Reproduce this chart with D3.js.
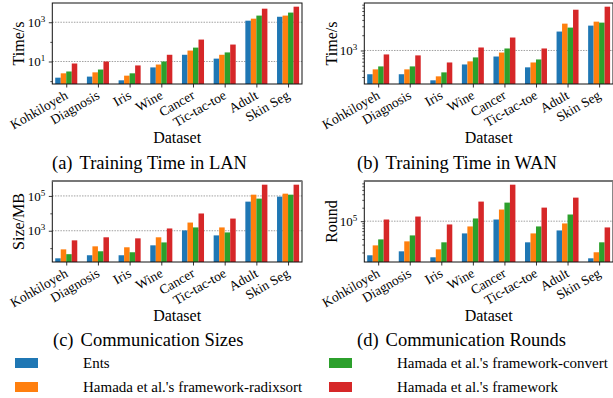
<!DOCTYPE html>
<html>
<head>
<meta charset="utf-8">
<script src="https://cdn.jsdelivr.net/npm/d3@7"></script>
<style>
  body { margin: 0; background: #fff; }
  text { font-family: "Liberation Serif", "Times New Roman", serif; fill: #000; }
</style>
</head>
<body>
<div id="chart"></div>
<script>
const datasets = ["Kohkiloyeh", "Diagnosis", "Iris", "Wine", "Cancer", "Tic-tac-toe", "Adult", "Skin Seg"];
const methods = [
  "Ents",
  "Hamada et al.'s framework-radixsort",
  "Hamada et al.'s framework-convert",
  "Hamada et al.'s framework"
];
const colors = ["#1f77b4", "#ff7f0e", "#2ca02c", "#d62728"];

// one row per method, one value per dataset
const lanTime = [
  [1.5, 1.7, 1.1, 5.0, 22, 14, 1200, 1900],
  [2.5, 2.8, 1.9, 7.0, 36, 22, 1520, 2180],
  [3.1, 3.9, 2.5, 10, 51, 29, 2180, 3100],
  [7.9, 10, 6.3, 22, 131, 73, 4900, 6200]
];
const wanTime = [
  [340, 340, 258, 530, 760, 465, 2360, 3090],
  [424, 424, 309, 610, 910, 580, 3380, 3700],
  [485, 485, 370, 730, 1095, 665, 2825, 3540],
  [835, 800, 580, 1145, 1800, 1095, 6360, 7300]
];
const commSize = [
  [26, 39, 39, 145, 1045, 540, 47000, 91000],
  [85, 127, 112, 420, 2950, 1550, 118000, 135000],
  [45, 66, 58, 213, 1550, 800, 70000, 118000],
  [280, 420, 365, 1350, 9800, 5000, 443000, 443000]
];
const commRounds = [
  [17300, 21200, 15600, 53300, 109000, 33700, 62100, 14800],
  [28800, 35400, 23500, 76300, 182000, 53300, 89000, 20200],
  [39200, 48100, 33700, 115000, 260000, 76300, 141000, 33700],
  [109000, 127000, 84500, 274000, 654000, 201000, 336000, 72500]
];

// labelled decades (exponents) for each panel
const majorLan = [1, 3];
const majorWan = [3];
const majorSize = [3, 5];
const majorRounds = [5];

const width = 613;
const height = 398;

const svg = d3
  .select("#chart")
  .append("svg")
  .attr("width", width)
  .attr("height", height);

const panels = [
  { data: lanTime, major: majorLan, ylabel: "Time/s", tag: "(a)", caption: "Training Time in LAN",
    left: 52.3, right: 302, top: 3, bottom: 84, labelX: 24, capX: 52, capY: 169 },
  { data: wanTime, major: majorWan, ylabel: "Time/s", tag: "(b)", caption: "Training Time in WAN",
    left: 364.3, right: 613, top: 3, bottom: 84, labelX: 337, capX: 357, capY: 169 },
  { data: commSize, major: majorSize, ylabel: "Size/MB", tag: "(c)", caption: "Communication Sizes",
    left: 52.3, right: 302, top: 181, bottom: 262, labelX: 24, capX: 53, capY: 346, heavyTop: true },
  { data: commRounds, major: majorRounds, ylabel: "Round", tag: "(d)", caption: "Communication Rounds",
    left: 364.3, right: 613, top: 181, bottom: 262, labelX: 337, capX: 357, capY: 346, heavyTop: true }
];

function drawPanel(p) {
  const x = d3.scalePoint().domain(datasets).range([p.left, p.right]).padding(0.44);

  // matplotlib-like autoscale: 5% margin in log space
  const vals = p.data.flat();
  const lo = Math.log10(d3.min(vals));
  const hi = Math.log10(d3.max(vals));
  const pad = (hi - lo) * 0.05;
  const y = d3
    .scaleLog()
    .domain([Math.pow(10, lo - pad), Math.pow(10, hi + pad)])
    .range([p.bottom, p.top]);

  const bw = x.step() * 0.174;
  const g = svg.append("g");

  // Grid
  g.selectAll("line.grid")
    .data(p.major)
    .join("line")
    .attr("class", "grid")
    .attr("x1", p.left)
    .attr("x2", p.right)
    .attr("y1", (d) => y(Math.pow(10, d)))
    .attr("y2", (d) => y(Math.pow(10, d)))
    .attr("stroke", "#a0a0a0")
    .attr("stroke-width", 1)
    .attr("stroke-dasharray", "1.5,1.2");

  // Bars
  p.data.forEach((row, j) => {
    g.append("g")
      .attr("fill", colors[j])
      .selectAll("rect")
      .data(row)
      .join("rect")
      .attr("x", (d, i) => x(datasets[i]) + (j - 2) * bw)
      .attr("width", bw)
      .attr("y", (d) => y(d))
      .attr("height", (d) => p.bottom - y(d));
  });

  // Minor ticks
  const [d0, d1] = y.domain();
  const minor = [];
  const skipStride = p.major.length > 1;
  for (let e = Math.floor(Math.log10(d0)); e <= Math.ceil(Math.log10(d1)); e++) {
    if (skipStride) {
      if (!p.major.includes(e)) minor.push(Math.pow(10, e));
    } else {
      for (let k = 2; k <= 9; k++) minor.push(k * Math.pow(10, e));
    }
  }
  const minorIn = minor.filter((v) => v >= d0 && v <= d1);
  g.append("g")
    .attr("transform", `translate(${p.left},0)`)
    .call(d3.axisLeft(y).tickValues(minorIn).tickSize(2).tickFormat(""))
    .call((s) => s.select(".domain").remove())
    .selectAll("line")
    .attr("stroke-width", 0.7);

  // Major y ticks
  const yAxis = g
    .append("g")
    .attr("transform", `translate(${p.left},0)`)
    .call(
      d3.axisLeft(y)
        .tickValues(p.major.map((e) => Math.pow(10, e)))
        .tickSize(3.5)
        .tickPadding(3.5)
        .tickFormat("")
    );
  yAxis.select(".domain").remove();
  yAxis.selectAll(".tick line").attr("stroke-width", 0.8);
  yAxis
    .selectAll(".tick text")
    .attr("font-size", 13)
    .attr("dy", "0.32em")
    .each(function (d) {
      const t = d3.select(this);
      t.text("10");
      t.append("tspan")
        .attr("font-size", 9)
        .attr("dy", "-0.55em")
        .text(Math.round(Math.log10(d)));
    });

  // X axis
  const xAxis = g
    .append("g")
    .attr("transform", `translate(0,${p.bottom})`)
    .call(d3.axisBottom(x).tickSize(3.5).tickSizeOuter(0));
  xAxis.select(".domain").remove();
  xAxis.selectAll(".tick line").attr("stroke-width", 0.8);
  xAxis
    .selectAll(".tick text")
    .attr("font-size", 13.5)
    .attr("y", 0)
    .attr("dy", "0.75em")
    .attr("text-anchor", "end")
    .attr("transform", "translate(-3,5) rotate(-30)");

  // Frame
  g.append("rect")
    .attr("x", p.left)
    .attr("y", p.top)
    .attr("width", p.right - p.left)
    .attr("height", p.bottom - p.top)
    .attr("fill", "none")
    .attr("stroke", "#111")
    .attr("stroke-width", 1);
  if (p.heavyTop) {
    g.append("line")
      .attr("x1", p.left)
      .attr("x2", p.right)
      .attr("y1", p.top)
      .attr("y2", p.top)
      .attr("stroke", "#777")
      .attr("stroke-width", 2);
  }

  // Labels
  g.append("text")
    .attr("transform", `translate(${p.labelX},${(p.top + p.bottom) / 2}) rotate(-90)`)
    .attr("text-anchor", "middle")
    .attr("font-size", 16)
    .text(p.ylabel);

  g.append("text")
    .attr("x", (p.left + Math.min(p.right, 614)) / 2)
    .attr("y", p.bottom + 58.5)
    .attr("text-anchor", "middle")
    .attr("font-size", 16)
    .text("Dataset");

  const cap = g
    .append("text")
    .attr("x", p.capX)
    .attr("y", p.capY)
    .attr("font-size", 18.5)
    .text(p.tag);
  cap.append("tspan").attr("dx", 7).text(p.caption);
}

panels.forEach(drawPanel);

// Legend
const legendPos = [
  { sx: 15, tx: 83, cy: 363 },
  { sx: 15, tx: 83, cy: 387 },
  { sx: 329, tx: 397, cy: 363 },
  { sx: 329, tx: 397, cy: 387 }
];
const legend = svg
  .append("g")
  .selectAll("g")
  .data(methods)
  .join("g");
legend
  .append("rect")
  .attr("x", (d, i) => legendPos[i].sx)
  .attr("y", (d, i) => legendPos[i].cy - 5)
  .attr("width", 23)
  .attr("height", 10)
  .attr("fill", (d, i) => colors[i]);
legend
  .append("text")
  .attr("x", (d, i) => legendPos[i].tx)
  .attr("y", (d, i) => legendPos[i].cy)
  .attr("dy", "0.33em")
  .attr("font-size", 15)
  .text((d) => d);
</script>
</body>
</html>
